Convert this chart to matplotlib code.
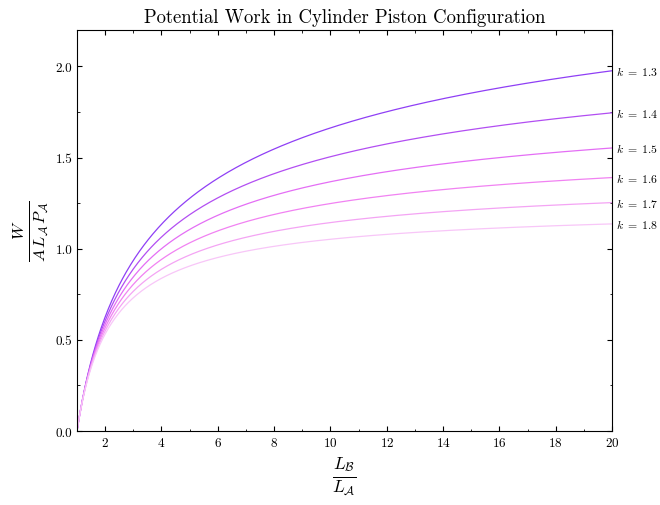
import numpy as np
import matplotlib
matplotlib.use("Agg")
import matplotlib.pyplot as plt
from matplotlib.ticker import MultipleLocator

# data
k_values = [1.3, 1.4, 1.5, 1.6, 1.7, 1.8]
line_colors = ["#8f3ff5", "#b24ef2", "#e46ef5", "#f182f2", "#f4a4f4", "#f8c6f8"]
ratio_min, ratio_max = 1.0, 20.0
x_ticks = [2, 4, 6, 8, 10, 12, 14, 16, 18, 20]
y_ticks = [0.0, 0.5, 1.0, 1.5, 2.0]

plt.rcParams.update({
    "font.family": "serif",
    "font.serif": ["cmr10", "DejaVu Serif"],
    "mathtext.fontset": "cm",
    "axes.formatter.use_mathtext": True,
    "xtick.direction": "in",
    "ytick.direction": "in",
    "xtick.top": True,
    "ytick.right": True,
    "xtick.minor.visible": True,
    "ytick.minor.visible": True,
    "xtick.major.size": 3.5,
    "ytick.major.size": 3.5,
    "xtick.minor.size": 1.8,
    "ytick.minor.size": 1.8,
    "axes.linewidth": 0.8,
})

fig = plt.figure(figsize=(6.6, 5.06), dpi=100)
ax = fig.add_axes([77/660, 1 - 432/506, (612-77)/660, (432-31)/506])

r = np.linspace(ratio_min, ratio_max, 600)
for k, c in zip(k_values, line_colors):
    w = (1 - r ** (1 - k)) / (k - 1)
    ax.plot(r, w, color=c, lw=0.9)
    ax.annotate(rf"$k\;=\;{k}$", xy=(ratio_max, w[-1]), xytext=(3, 0),
                textcoords="offset points", va="center", ha="left",
                fontsize=8.5, annotation_clip=False)

ax.set_xlim(ratio_min, ratio_max)
ax.set_ylim(0, 2.2)
ax.set_xticks(x_ticks)
ax.set_yticks(y_ticks)
ax.xaxis.set_minor_locator(MultipleLocator(1))
ax.yaxis.set_minor_locator(MultipleLocator(0.25))
ax.set_yticklabels([f"{v:.1f}" for v in y_ticks])
ax.tick_params(labelsize=9.5)

ax.set_title("Potential Work in Cylinder Piston Configuration", fontsize=13.5, pad=6)
ax.set_xlabel(r"$\frac{L_\mathcal{B}}{L_\mathcal{A}}$", fontsize=18)
ax.set_ylabel(r"$\frac{W}{A\,L_\mathcal{A}\,P_\mathcal{A}}$", fontsize=17)

fig.savefig("out.png", dpi=100)
